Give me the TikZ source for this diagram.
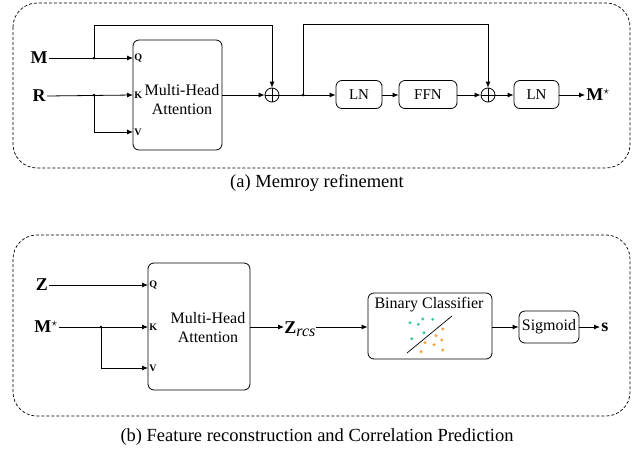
\documentclass[tikz,border=0pt]{standalone}
\usepackage{fontspec}
\setmainfont{Liberation Serif}
\usetikzlibrary{arrows.meta}
\definecolor{teal1}{RGB}{60,196,160}
\definecolor{orng}{RGB}{245,160,60}
\begin{document}
\begin{tikzpicture}[x=1pt,y=-1pt,line width=0.8pt,
  arr/.style={-{Latex[length=6pt,width=5pt]}},
  blk/.style={draw,rounded corners=6pt,inner sep=0pt,align=center},
  frame/.style={draw,dash pattern=on 3pt off 2pt,rounded corners=24pt,line width=0.7pt},
  plusnode/.style={draw,circle,minimum size=14pt,inner sep=0pt},
  port/.style={font=\fontsize{10}{10}\selectfont\bfseries,anchor=west,inner sep=1pt},
  lab/.style={font=\fontsize{18}{20}\selectfont\bfseries,inner sep=1pt},
  txt/.style={font=\fontsize{16}{19}\selectfont},
  small/.style={font=\fontsize{15}{16}\selectfont},
  jdot/.style={fill,circle,inner sep=0pt,minimum size=3pt},
  captext/.style={font=\fontsize{18.5}{20}\selectfont}]
\useasboundingbox (0,0) rectangle (634,453);

% ---------- panel (a) ----------
\draw[frame] (13,3) rectangle (630,168);
\node[captext] (capa) at (317,183) {(a) Memroy refinement};

\node[lab] (Ma) at (39,58) {M};
\node[lab] (Ra) at (39,96) {R};
\node[blk,minimum width=89pt,minimum height=110pt] (mhaA) at (177.5,95) {};
\node[txt,align=center] (mhaAt) at (182,100) {Multi-Head\\Attention};
\coordinate (qa) at (133,58);
\coordinate (ka) at (133,95);
\coordinate (va) at (133,132);
\node[port] at (qa) {Q};
\node[port] at (ka) {K};
\node[port] at (va) {V};
\coordinate (jM) at (94,58);
\coordinate (jR) at (94,95);
\node[plusnode] (p1) at (272,95) {};
\draw (p1.north) -- (p1.south) (p1.west) -- (p1.east);
\node[blk,minimum width=46pt,minimum height=28pt,small] (ln1) at (359,94.5) {LN};
\node[blk,minimum width=58pt,minimum height=28pt,small] (ffn) at (428,94.5) {FFN};
\node[plusnode] (p2) at (488,95) {};
\draw (p2.north) -- (p2.south) (p2.west) -- (p2.east);
\node[blk,minimum width=45pt,minimum height=28pt,small] (ln2) at (536.5,94.5) {LN};
\node[lab,anchor=west] (Ms) at (585,95) {M$^{\star}$};
\coordinate (jP) at (303,95);

\draw[arr] (Ma.east) -- (qa);
\draw[arr] (Ra.east) -- (ka);
\draw[arr] (jR) |- (va);
\draw[arr] (jM) |- (272,25) -- (p1.north);
\draw[arr] (mhaA.east |- p1) -- (p1.west);
\draw[arr] (p1.east) -- (ln1.west |- p1);
\draw[arr] (jP) |- (488,24) -- (p2.north);
\draw[arr] (ln1.east |- p1) -- (ffn.west |- p1);
\draw[arr] (ffn.east |- p1) -- (p2.west);
\draw[arr] (p2.east) -- (ln2.west |- p2);
\draw[arr] (ln2.east |- p2) -- (Ms.west);
\node[jdot] at (jM) {};
\node[jdot] at (jR) {};
\node[jdot] at (jP) {};

% ---------- panel (b) ----------
\draw[frame] (13,235) rectangle (630,416);
\node[captext] (capb) at (317,437) {(b) Feature reconstruction and Correlation Prediction};

\node[lab] (Zb) at (42,285) {Z};
\node[lab] (Mb) at (46,327) {M$^{\star}$};
\node[blk,minimum width=102pt,minimum height=127pt] (mhaB) at (199,326.5) {};
\node[txt,align=center] (mhaBt) at (208,328) {Multi-Head\\Attention};
\coordinate (qb) at (148,285);
\coordinate (kb) at (148,327);
\coordinate (vb) at (148,368);
\node[port] at (qb) {Q};
\node[port] at (kb) {K};
\node[port] at (vb) {V};
\coordinate (jMb) at (101,327);
\node[lab,anchor=west,inner sep=0pt] (Zr) at (284,329) {Z\raisebox{-3.5pt}{\fontsize{16}{16}\selectfont\mdseries\itshape rcs}};
\node[blk,minimum width=124pt,minimum height=66pt] (bc) at (430,326) {};
\node[txt] (bct) at (429,305) {Binary Classifier};
\node[blk,minimum width=60pt,minimum height=32pt,txt] (sig) at (549,327) {Sigmoid};
\node[lab,anchor=west] (sb) at (600,327) {s};

\draw[arr] (Zb.east) -- (qb);
\draw[arr] (Mb.east) -- (kb);
\draw[arr] (jMb) |- (vb);
\draw[arr] (mhaB.east |- kb) -- (Zr.west |- kb);
\draw[arr] (Zr.east |- kb) -- (bc.west |- kb);
\draw[arr] (bc.east |- kb) -- (sig.west);
\draw[arr] (sig.east) -- (sb.west);
\node[jdot] at (jMb) {};

% classifier scatter
\draw[line width=0.7pt] (407,353) -- (452,316);
\foreach \p in {(410,322.7),(418.3,324.3),(422.7,319),(432.7,319.3),(424,332.7),(411.7,338.7)}
  \fill[teal1] \p circle (1.6pt);
\foreach \p in {(442.7,329),(436,335.7),(441.7,340),(425,342.7),(434,344.7),(421,351.7),(442.7,350)}
  \fill[orng] \p circle (1.6pt);
\end{tikzpicture}
\end{document}
